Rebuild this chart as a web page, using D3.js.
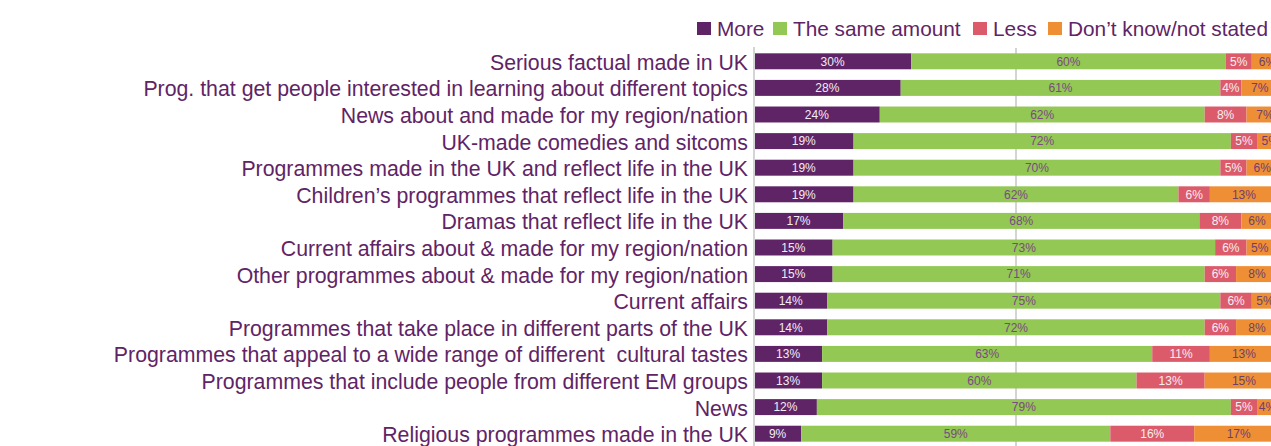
<!DOCTYPE html>
<html>
<head>
<meta charset="utf-8">
<script src="https://cdn.jsdelivr.net/npm/d3@7"></script>
<style>
  body { margin: 0; background: #fff; overflow: hidden; }
  svg { display: block; font-family: "Liberation Sans", Arial, sans-serif; }
  text { white-space: pre; }
</style>
</head>
<body>
<svg id="chart" width="1271" height="446"></svg>
<script>
// categories, top to bottom
const categories = [
    "Serious factual made in UK",
    "Prog. that get people interested in learning about different topics",
    "News about and made for my region/nation",
    "UK-made comedies and sitcoms",
    "Programmes made in the UK and reflect life in the UK",
    "Children\u2019s programmes that reflect life in the UK",
    "Dramas that reflect life in the UK",
    "Current affairs about & made for my region/nation",
    "Other programmes about & made for my region/nation",
    "Current affairs",
    "Programmes that take place in different parts of the UK",
    "Programmes that appeal to a wide range of different  cultural tastes",
    "Programmes that include people from different EM groups",
    "News",
    "Religious programmes made in the UK",
];

const seriesNames = ["More", "The same amount", "Less", "Don\u2019t know/not stated"];

const more = [30, 28, 24, 19, 19, 19, 17, 15, 15, 14, 14, 13, 13, 12, 9];
const same = [60, 61, 62, 72, 70, 62, 68, 73, 71, 75, 72, 63, 60, 79, 59];
const less = [5, 4, 8, 5, 5, 6, 8, 6, 6, 6, 6, 11, 13, 5, 16];
const dontKnow = [6, 7, 7, 5, 6, 13, 6, 5, 8, 5, 8, 13, 15, 4, 17];

const colors = ["#5f2466", "#92c853", "#dc5b6b", "#ef8f35"];
const labelColors = ["#f3ecf3", "#7b4a82", "#f6eef0", "#6e3f6e"];
const textColor = "#5f2466";

const rows = categories.map((c, i) => ({
    name: c,
    more: more[i],
    same: same[i],
    less: less[i],
    dontKnow: dontKnow[i],
}));
const keys = ["more", "same", "less", "dontKnow"];

const svg = d3.select("#chart");

const x = d3.scaleLinear().domain([0, 100]).range([754, 1278]);
const y = d3
    .scaleBand()
    .domain(categories)
    .range([48, 447])
    .paddingInner(0.4)
    .paddingOuter(0.2);

// gridline at 50%
svg.append("g")
    .selectAll("line")
    .data([50])
    .enter()
    .append("line")
    .attr("x1", (d) => x(d))
    .attr("x2", (d) => x(d))
    .attr("y1", 48)
    .attr("y2", 446)
    .attr("stroke", "#d4d4d4")
    .attr("stroke-width", 2);

const stack = d3.stack().keys(keys)(rows);

const layers = svg
    .append("g")
    .selectAll("g")
    .data(stack)
    .enter()
    .append("g")
    .attr("fill", (d, i) => colors[i]);

layers
    .selectAll("rect")
    .data((d) => d)
    .enter()
    .append("rect")
    .attr("x", (d) => x(d[0]))
    .attr("y", (d) => y(d.data.name))
    .attr("width", (d) => x(d[1]) - x(d[0]))
    .attr("height", y.bandwidth());

// value labels
layers
    .selectAll("text")
    .data((d, i) => d.map((v) => ({ v: v, i: i, key: keys[i] })))
    .enter()
    .append("text")
    .attr("x", (d) => (x(d.v[0]) + x(d.v[1])) / 2)
    .attr("y", (d) => y(d.v.data.name) + y.bandwidth() / 2)
    .attr("dy", "0.36em")
    .attr("text-anchor", "middle")
    .attr("fill", (d) => labelColors[d.i])
    .style("font-size", "12px")
    .text((d) => d.v.data[d.key] + "%");

// y axis
const yAxis = d3.axisLeft(y).tickSize(0).tickPadding(6);
const yg = svg.append("g").attr("transform", "translate(754,0)").call(yAxis);
yg.select(".domain").remove();
yg.selectAll("text")
    .attr("fill", textColor)
    .attr("dy", "0.4em")
    .style("font-size", "21.3px")
    .style("font-family", '"Liberation Sans", Arial, sans-serif');

svg.append("line")
    .attr("x1", 754)
    .attr("x2", 754)
    .attr("y1", 47)
    .attr("y2", 446)
    .attr("stroke", "#d4d4d4")
    .attr("stroke-width", 2);

// legend
const legendX = [697, 773, 973, 1048];
const legend = svg
    .append("g")
    .selectAll("g")
    .data(seriesNames)
    .enter()
    .append("g")
    .attr("transform", (d, i) => `translate(${legendX[i]},22)`);

legend
    .append("rect")
    .attr("width", 14)
    .attr("height", 13)
    .attr("fill", (d, i) => colors[i]);

legend
    .append("text")
    .attr("x", 20)
    .attr("y", 13.5)
    .attr("fill", textColor)
    .style("font-size", "20.8px")
    .text((d) => d);
</script>
</body>
</html>
